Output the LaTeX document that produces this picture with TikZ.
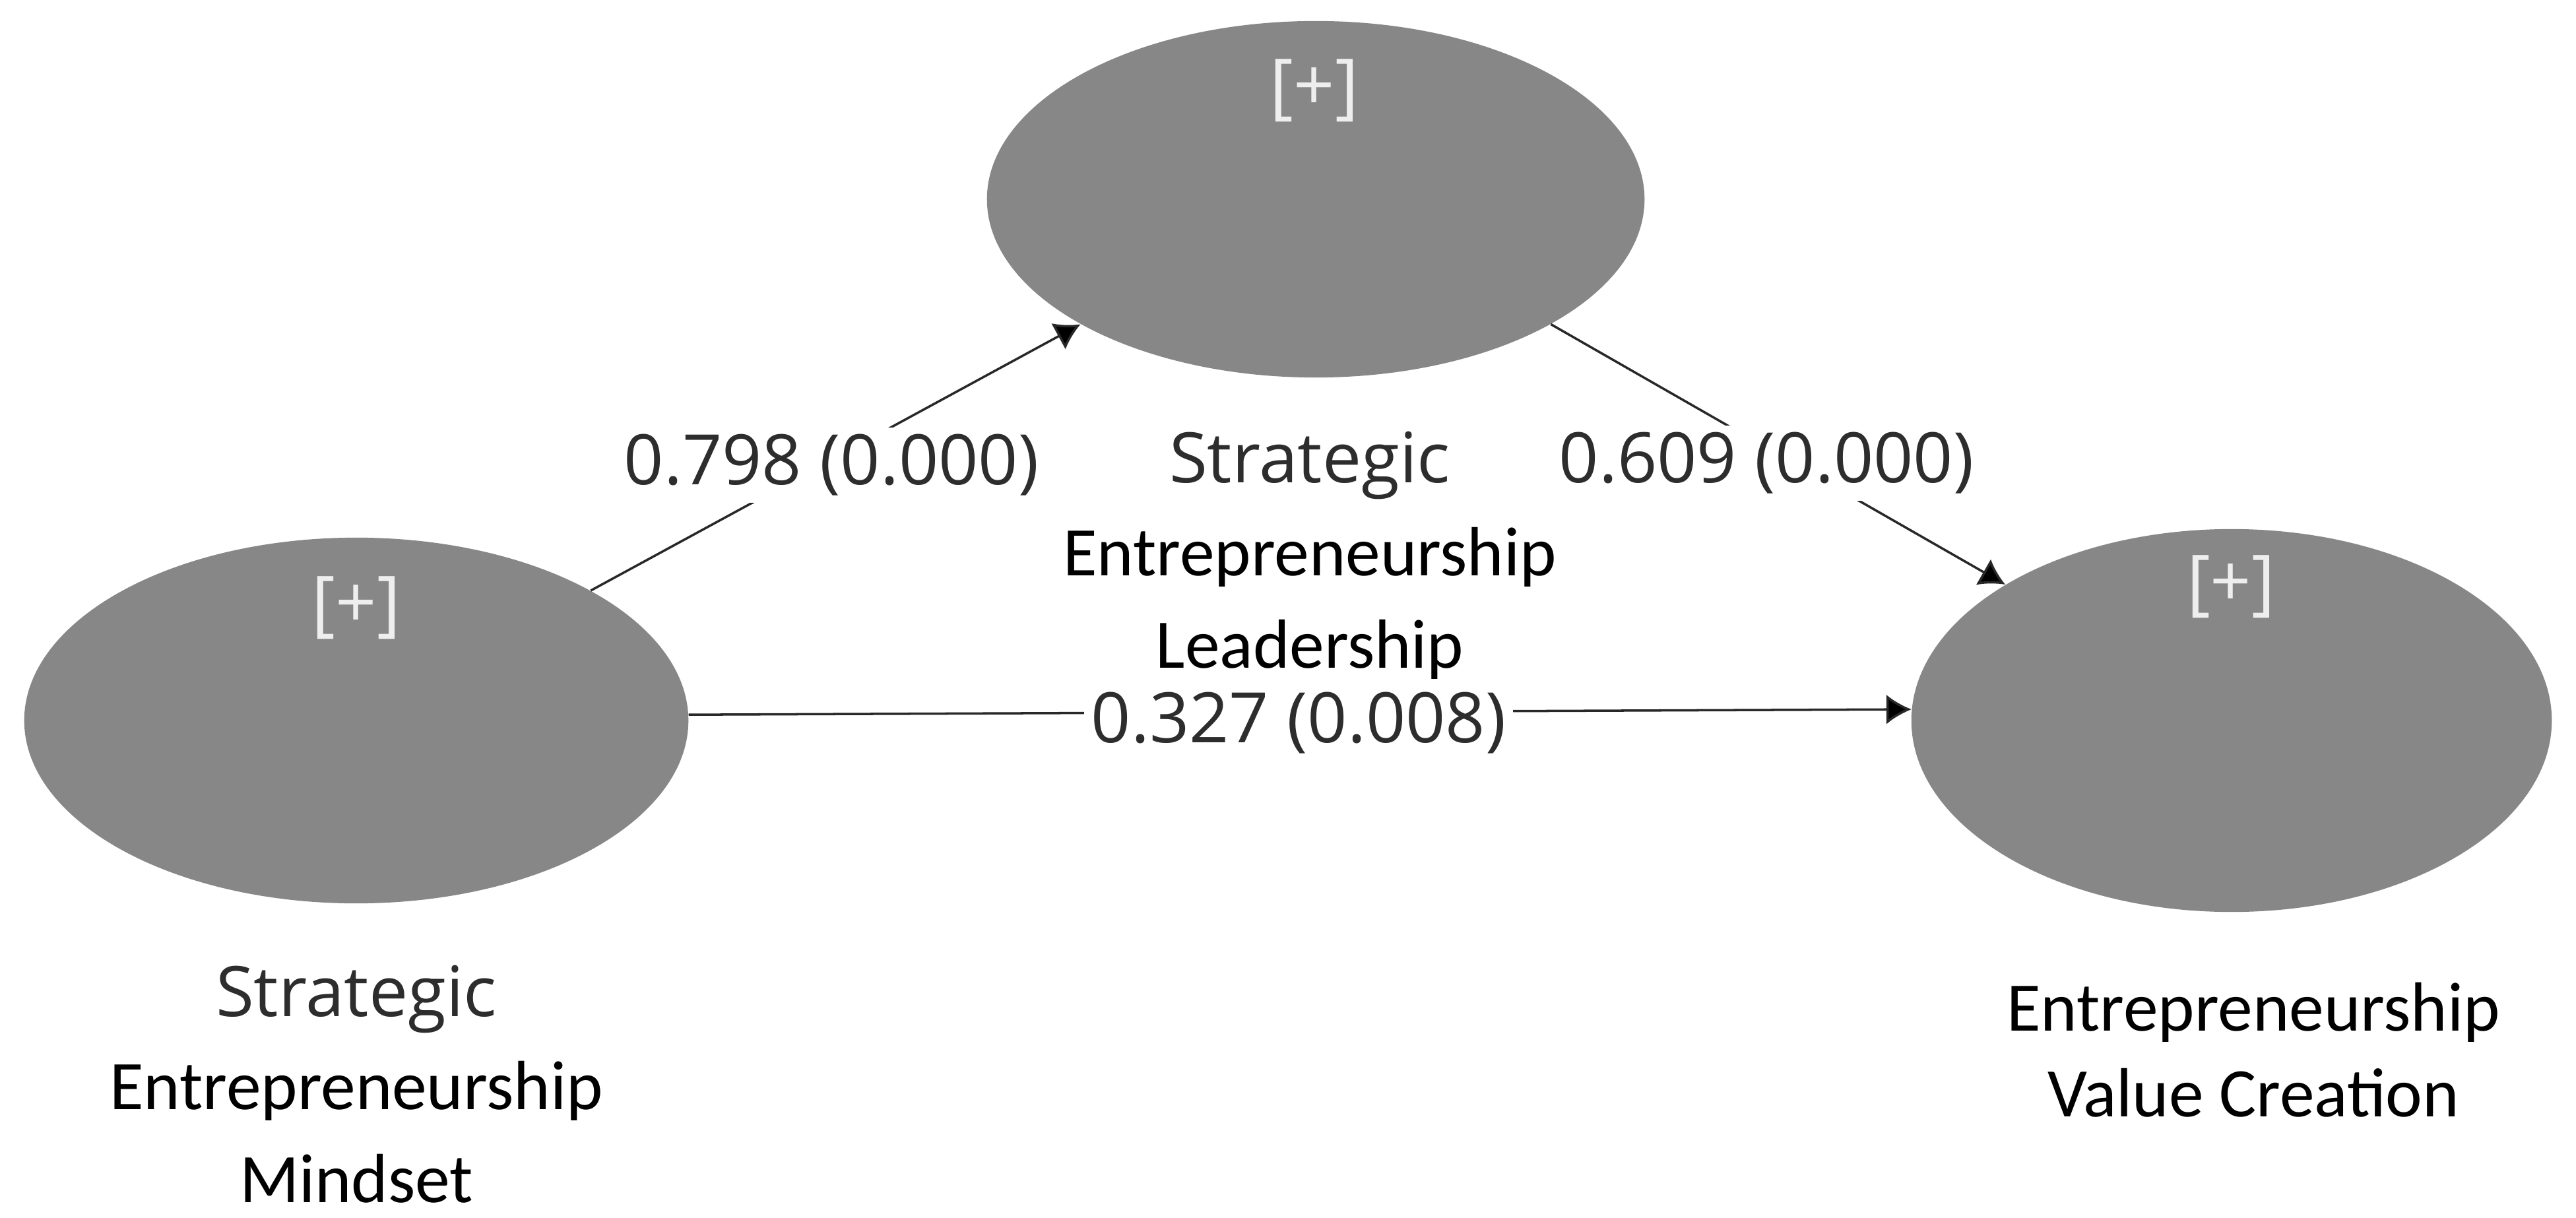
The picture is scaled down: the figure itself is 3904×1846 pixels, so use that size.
\documentclass[tikz,border=0pt]{standalone}
\usepackage{fontspec}
\setmainfont{Carlito}
\newfontfamily\segoe{Open Sans}
\usetikzlibrary{shapes.geometric,arrows.meta}
\definecolor{ellgray}{RGB}{135,135,135}
\definecolor{linegray}{RGB}{40,40,40}
\definecolor{numgray}{RGB}{45,45,45}
\definecolor{plusgray}{RGB}{238,238,238}
\begin{document}
\begin{tikzpicture}[x=0.01cm,y=-0.01cm,
  latent/.style={ellipse, fill=ellgray, inner sep=0pt, draw=none},
  plussign/.style={text=plusgray, font=\segoe\fontsize{31}{36}\selectfont, inner sep=0pt},
  conn/.style={draw=linegray, line width=1pt, -{Latex[length=0.38cm,width=0.45cm,fill=black]}},
  coef/.style={fill=white, text=numgray, font=\segoe\fontsize{30}{36}\selectfont, inner sep=3pt},
  varlabel/.style={align=center, font=\fontsize{30}{40}\selectfont, inner sep=0pt},
]
\fill[white] (0,0) rectangle (3904,1846);
\useasboundingbox (0,0) rectangle (3904,1846);

\node[latent, minimum width=10.06cm, minimum height=5.54cm] (SEM) at (540,1092) {};
\node[latent, minimum width=9.96cm, minimum height=5.40cm] (SEL) at (1994,302) {};
\node[latent, minimum width=9.70cm, minimum height=5.80cm] (EVC) at (3382,1092) {};

\node[plussign] (pSEM) at (540,921) {[+]};
\node[plussign] (pSEL) at (1992,137) {[+]};
\node[plussign] (pEVC) at (3381,889) {[+]};

\draw[conn] (SEM.29) -- (SEL.208);
\draw[conn] (SEL.332) -- (EVC.149);
\draw[conn] (SEM.1) -- (EVC.178);

\node[coef] (c1) at (1260,705) {0.798 (0.000)};
\node[coef] (c2) at (2677,702) {0.609 (0.000)};
\node[coef] (c3) at (1968,1096) {0.327 (0.008)};

\node[varlabel] (lSEM) at (540,1643) {{\segoe\color{numgray}Strategic}\\Entrepreneurship\\Mindset};
\node[varlabel] (lSEL) at (1985,842) {{\segoe\color{numgray}Strategic}\\Entrepreneurship\\Leadership};
\node[varlabel, font=\fontsize{30}{37}\selectfont] (lEVC) at (3415,1591) {Entrepreneurship\\Value Creation};
\end{tikzpicture}
\end{document}
